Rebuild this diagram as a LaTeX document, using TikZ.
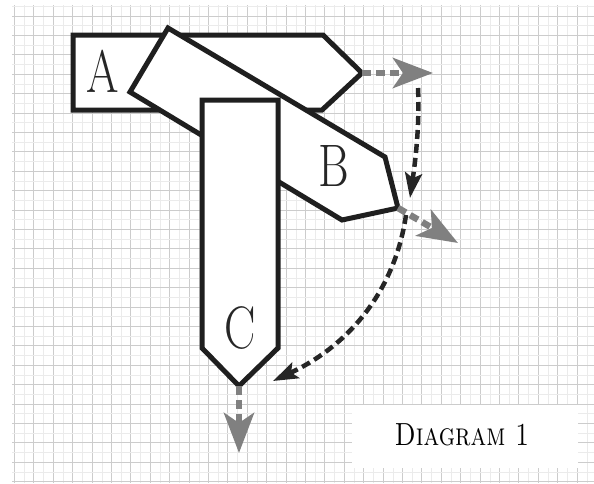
\documentclass[tikz,border=0pt]{standalone}
\usetikzlibrary{arrows.meta}
\begin{document}
\begin{tikzpicture}[x=1pt,y=-1pt,
  shapeline/.style={line width=5pt, line join=miter, fill=white, draw=black!88},
  letter/.style={font=\fontsize{60}{60}\selectfont, inner sep=0pt, text=black!85},
  grayarrow/.style={draw=black!50, line width=6.5pt, dash pattern=on 9pt off 5pt,
     -{Stealth[length=40pt,width=30pt,inset=10pt,fill=black!50]}},
  blackarrow/.style={draw=black!85, line width=4.5pt, dash pattern=on 9pt off 5pt,
     -{Stealth[length=25pt,width=17pt,inset=5pt,fill=black!85]}},
  majorgrid/.style={draw=black!20, line width=0.9pt},
  minorgrid/.style={draw=black!8, line width=0.6pt}]
\useasboundingbox (0,0) rectangle (594,483);
\fill[white] (0,0) rectangle (594,483);
% grid
\begin{scope}
\clip (12,5) rectangle (594,483);
\foreach \i in {0,...,30} {
  \pgfmathsetmacro\xx{14.5+19.4*\i}
  \pgfmathsetmacro\xm{14.5+19.4*\i+9.7}
  \draw[minorgrid] (\xm,0) -- (\xm,483);
  \draw[majorgrid] (\xx,0) -- (\xx,483);
}
\foreach \j in {-1,...,25} {
  \pgfmathsetmacro\yy{16+19.4*\j}
  \pgfmathsetmacro\ym{16+19.4*\j+9.7}
  \draw[minorgrid] (0,\ym) -- (594,\ym);
  \draw[majorgrid] (0,\yy) -- (594,\yy);
}
\end{scope}
% coordinates
\coordinate (a1) at (73,35);  \coordinate (a2) at (323,35); \coordinate (a3) at (362,73);
\coordinate (a4) at (322,110); \coordinate (a5) at (73,110);
\coordinate (b1) at (168,28); \coordinate (b2) at (385,157); \coordinate (b3) at (398,208);
\coordinate (b4) at (342,220); \coordinate (b5) at (130,92);
\coordinate (c1) at (202,100); \coordinate (c2) at (278,100); \coordinate (c3) at (278,348);
\coordinate (c4) at (239,386); \coordinate (c5) at (202,348);
\coordinate (ga) at (433,73);
\coordinate (gb) at (458,243);
\coordinate (gc) at (239,453);
\coordinate (k1s) at (418,88);
\coordinate (k1e) at (410,198);
\coordinate (k2s) at (406,215);
\coordinate (k2e) at (273,381);
% shapes
\draw[shapeline] (a1) -- (a2) -- (a3) -- (a4) -- (a5) -- cycle;
\draw[shapeline] (b1) -- (b2) -- (b3) -- (b4) -- (b5) -- cycle;
\draw[shapeline] (c1) -- (c2) -- (c3) -- (c4) -- (c5) -- cycle;
% letters
\node[letter] (la) at (103,71) {\scalebox{0.78}[1]{A}};
\node[letter] (lb) at (334,166) {\scalebox{0.78}[1]{B}};
\node[letter] (lc) at (240,328) {\scalebox{0.78}[1]{C}};
% gray arrows
\draw[grayarrow] (a3) -- (ga);
\draw[grayarrow] (b3) -- (gb);
\draw[grayarrow] (c4) -- (gc);
% black dashed arrows
\draw[blackarrow] (k1s) .. controls (420,130) and (414,170) .. (k1e);
\draw[blackarrow] (k2s) .. controls (395,290) and (350,345) .. (k2e);
% caption
\node[fill=white, minimum width=226pt, minimum height=63pt, inner sep=0pt] (cap) at (465,436.5) {};
\node[font=\fontsize{32}{32}\selectfont, inner sep=0pt] (captext) at (462,435) {\scalebox{0.8}[1]{\textsc{Diagram 1}}};
\end{tikzpicture}
\end{document}
